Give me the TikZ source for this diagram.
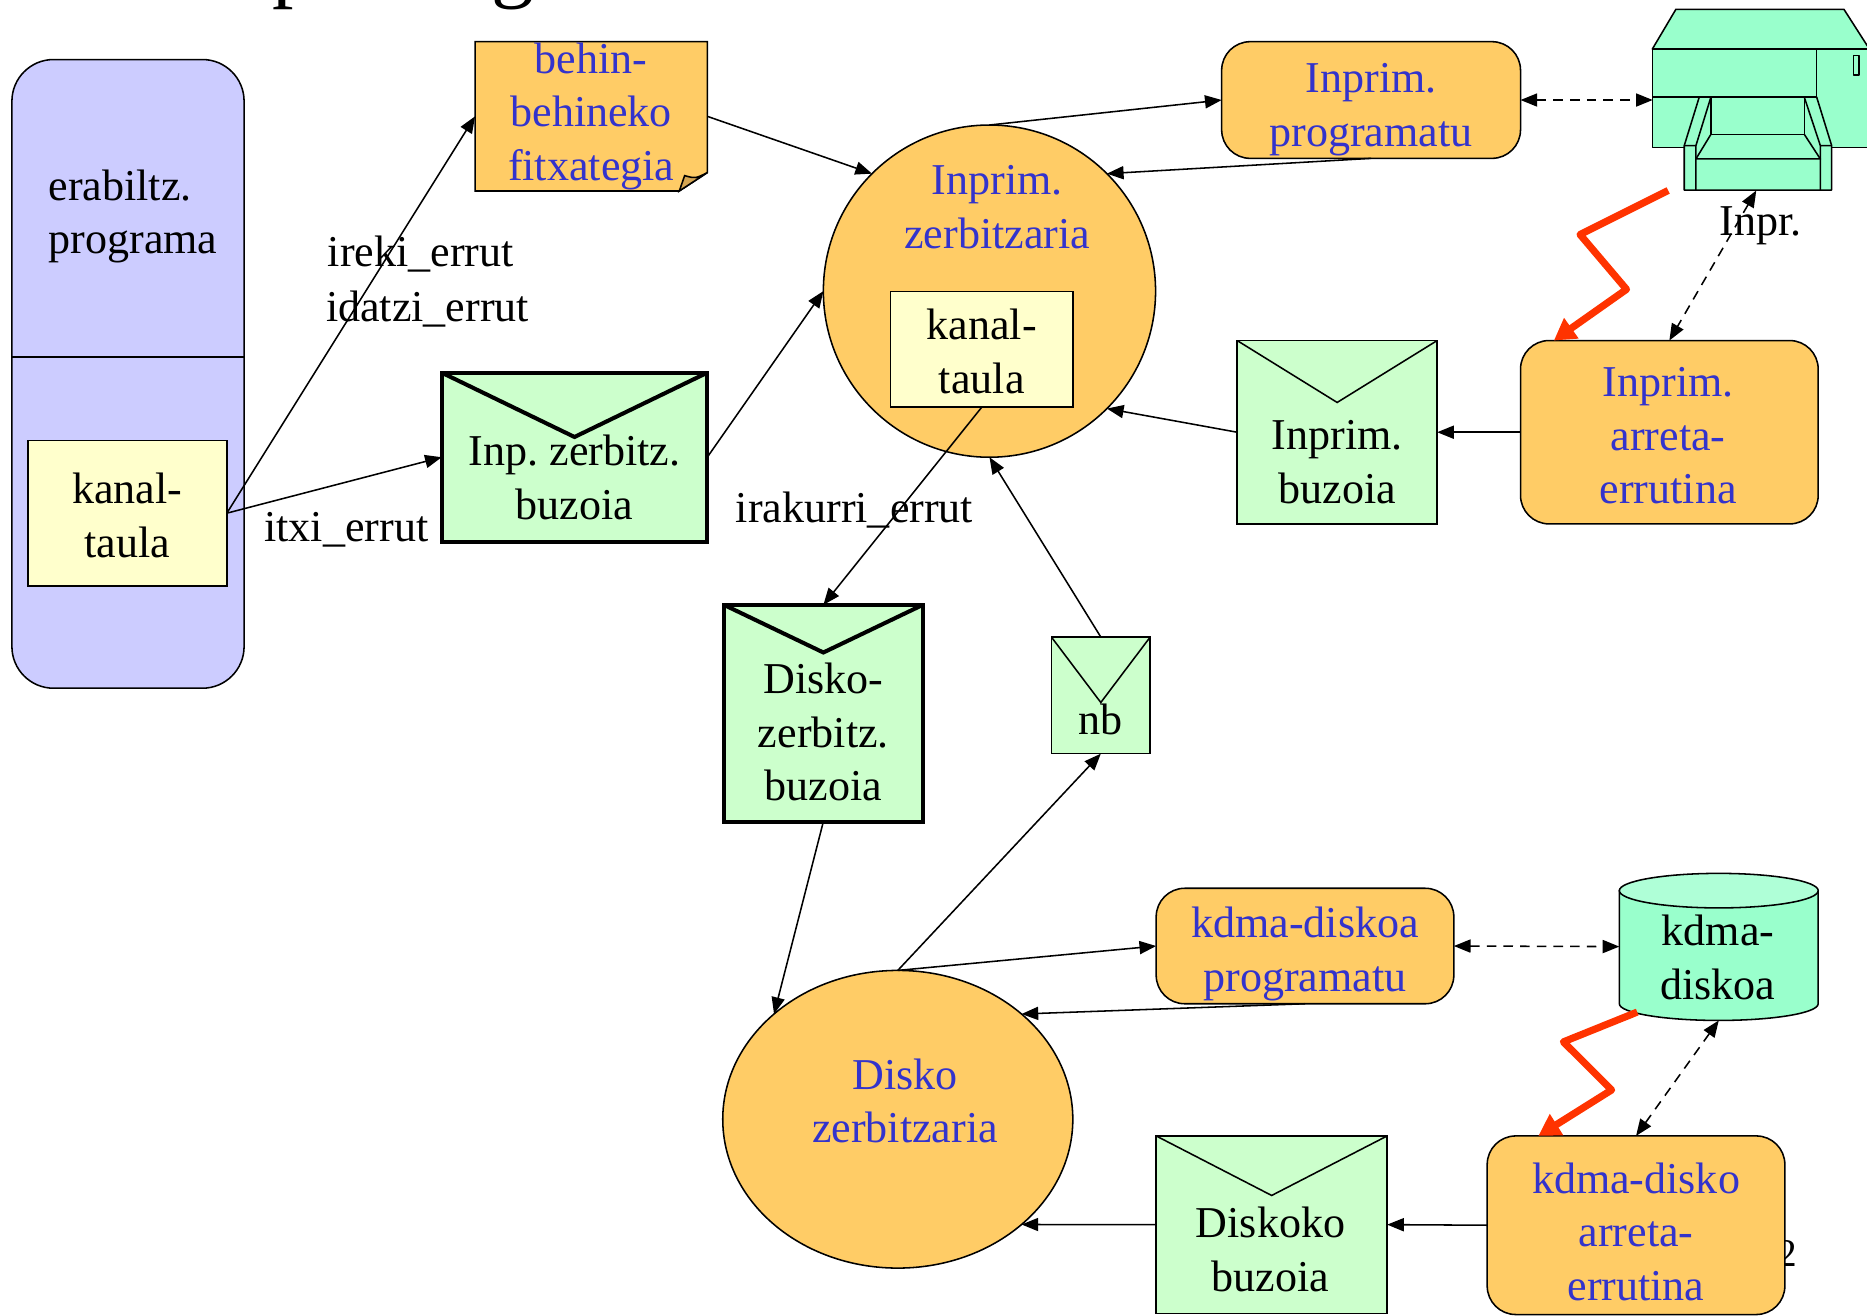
\documentclass[tikz,border=0pt]{standalone}
\usepackage{fontspec}
\setmainfont{Liberation Serif}
\frenchspacing
\usetikzlibrary{
  arrows.meta,
  calc,
  shapes.geometric,
}
\tikzset{
  >={Triangle[length=14pt,width=11pt]},
}
\definecolor{lila}{HTML}{CCCCFF}
\definecolor{laranja}{HTML}{FFCC66}
\definecolor{berdea}{HTML}{CCFFCC}
\definecolor{ura}{HTML}{99FFCC}
\definecolor{uraargi}{HTML}{AFFFD7}
\definecolor{horia}{HTML}{FFFFCC}
\definecolor{urdina}{HTML}{3333CC}
\definecolor{gorria}{HTML}{FF3300}
\definecolor{tolestu}{HTML}{D4A552}

\begin{document}
\begin{tikzpicture}[x=1pt,y=-1pt,line width=1.3pt,
  every node/.style={font=\fontsize{37}{45}\selectfont,inner sep=0pt,outer sep=0pt,align=center},
  box/.style={rectangle,draw,line width=1.3pt},
  prozesu/.style={box,rounded corners=24pt,fill=laranja},
  zerbitzari/.style={ellipse,draw,line width=1.3pt,fill=laranja},
  buzoi/.style args={#1 and #2}{box,fill=berdea,line width=#2,
    path picture={\draw[line width=#2] (path picture bounding box.north west) -- ([yshift=-#1]path picture bounding box.north) -- (path picture bounding box.north east);}},
  lotura/.style={<->,dash pattern=on 8pt off 6pt,line width=1.3pt},
  tximista/.style={gorria,line width=6pt,line join=round,-{Triangle[length=18pt,width=20pt]}}]

        \useasboundingbox (0,0) rectangle (1568,1105);

        \begin{scope}
          \clip (0,0) rectangle (1568,1105);
          \node[anchor=base west,font=\fontsize{72}{80}\selectfont] (izenburua) at (189,-7) {Spooling};
        \end{scope}

        \node[box,fill=lila,rounded corners=35pt,minimum width=195pt,minimum height=528pt] (prog) at (107.5,314) {};
        \draw (prog.west |- 0,300) -- (prog.east |- 0,300);
        \node[anchor=west,align=left] (progt) at (40.8,181.9) {erabiltz.\\programa};
        \node[box,fill=horia,minimum width=167pt,minimum height=122pt] (kanal1) at (107,431) {};
        \node (kanal1t) at (107,433) {kanal-\\taula};

        \draw[fill=laranja] (399,35) -- (594,35) -- (594,145) -- (570.5,160.4) -- (399,160.4) -- cycle;
        \draw[fill=tolestu] (570.5,160.4) -- (575,147.5) .. controls (584,150) .. (594,145) -- cycle;
        \node[minimum width=195pt,minimum height=125pt,text=urdina] (behin) at (496.5,97.7) {behin-\\behineko\\fitxategia};

        \node[buzoi={54pt and 3.4pt},minimum width=223pt,minimum height=142pt] (inpbuz) at (482.5,384) {};
        \node (inpbuzt) at (482.5,401) {Inp. zerbitz.\\buzoia};

        \node[zerbitzari,minimum width=279pt,minimum height=279pt] (inpsrv) at (831,244.5) {};
        \node[text=urdina] (inpsrvt) at (837.5,173.9) {Inprim.\\zerbitzaria};
        \node[box,fill=horia,minimum width=153pt,minimum height=97pt] (kanal2) at (824.5,293.5) {};
        \node (kanal2t) at (824.5,295) {kanal-\\taula};

        \node[prozesu,minimum width=251pt,minimum height=98pt] (inpprog) at (1151.5,84) {};
        \node[text=urdina] (inpprogt) at (1151.5,92) {Inprim.\\programatu};

        \begin{scope}[fill=ura,line join=round]
          \filldraw (1387.7,41.2) -- (1407.5,7.8) -- (1548.6,7.8) -- (1570,41.2) -- cycle;
          \filldraw (1387.7,41.2) rectangle (1580,124);
          \draw (1525.7,41.2) -- (1525.7,124) (1387.7,81.5) -- (1525.7,81.5);
          \draw (1556.8,46.8) rectangle (1561.2,63);
          \filldraw (1427.1,81.5) -- (1414.5,122.3) -- (1414.5,159.6) -- (1538.3,159.6) -- (1538.3,122.3) -- (1525.7,81.5) -- cycle;
          \draw (1436.9,81.5) -- (1424.3,122.3) -- (1424.3,159.6) (1414.5,122.3) -- (1424.3,122.3);
          \draw (1515.3,81.5) -- (1528.8,122.3) -- (1528.8,159.6) (1528.8,122.3) -- (1538.3,122.3);
          \draw (1436.9,81.5) -- (1436.9,112.8) -- (1515.3,112.8) -- (1515.3,81.5);
          \draw (1436.9,112.8) -- (1424.3,133.5) -- (1528.8,133.5) -- (1515.3,112.8);
        \end{scope}
        \node[minimum width=180pt,minimum height=152pt] (inpr) at (1478,84) {};
        \node[anchor=base west] (inprt) at (1444,197.4) {Inpr.};

        \node[prozesu,minimum width=250pt,minimum height=154pt] (inparr) at (1402,363) {};
        \node[text=urdina] (inparrt) at (1401,366) {Inprim.\\arreta-\\errutina};

        \node[buzoi={52pt and 1.3pt},minimum width=168pt,minimum height=154pt] (inpbuz2) at (1123,363) {};
        \node (inpbuz2t) at (1123,388) {Inprim.\\buzoia};

        \node[buzoi={40pt and 3.4pt},minimum width=167pt,minimum height=182pt] (diskbuz) at (691.5,599) {};
        \node (diskbuzt) at (691.5,615) {Disko-\\zerbitz.\\buzoia};

        \node[buzoi={55pt and 1.3pt},minimum width=83pt,minimum height=98pt] (nb) at (924.5,584) {};
        \node (nbt) at (924.5,604) {nb};

        \node[zerbitzari,minimum width=294pt,minimum height=250pt] (disksrv) at (754,940) {};
        \node[text=urdina] (disksrvt) at (760,924.5) {Disko\\zerbitzaria};

        \node[prozesu,minimum width=250pt,minimum height=97pt] (kdmaprog) at (1096,794.5) {};
        \node[text=urdina] (kdmaprogt) at (1096,801) {kdma-diskoa\\programatu};

        \filldraw[fill=ura] (1360,748) -- (1360,843) arc[start angle=180,end angle=0,x radius=83.5,y radius=14] -- (1527,748) -- cycle;
        \filldraw[fill=uraargi] (1443.5,748) ellipse[x radius=83.5,y radius=14.5];
        \node[minimum width=167pt,minimum height=124pt] (kdma) at (1443.5,795) {};
        \node (kdmat) at (1442.8,804) {kdma-\\diskoa};

        \node[anchor=base east,font=\fontsize{33}{40}\selectfont] (orria) at (1509,1064) {12};
        \node[prozesu,minimum width=250pt,minimum height=150pt] (kdmaarr) at (1374,1029) {};
        \node[text=urdina] (kdmaarrt) at (1374,1034.5) {kdma-disko\\arreta-\\errutina};

        \node[buzoi={50pt and 1.3pt},minimum width=194pt,minimum height=149pt] (diskbuz2) at (1068,1028.5) {};
        \node (diskbuz2t) at (1067,1049.5) {Diskoko\\buzoia};

        \node[anchor=base west] (ireki) at (275.4,224) {ireki\_errut};
        \node[anchor=base west] (idatzi) at (273.8,270.2) {idatzi\_errut};
        \node[anchor=base west] (itxi) at (222,455) {itxi\_errut};
        \node[anchor=base west] (irakurri) at (618,439) {irakurri\_errut};

        \draw[->] (kanal1.east) -- (behin.west);
        \draw[->] (kanal1.east) -- (inpbuz.west);
        \draw[->] (inpbuz.east) -- (inpsrv.west);
        \draw[->] (behin.east) -- (inpsrv.north west);
        \draw[->] (inpsrv.north) -- (inpprog.west);
        \draw[->] (inpprog.south) -- (inpsrv.north east);
        \draw[lotura] (inpprog.east) -- (inpr.west);
        \draw[tximista] ([xshift=13pt]inpr.south west) -- (1327,197) -- (1366,243) -- ([xshift=28pt]inparr.north west);
        \draw[lotura] ([xshift=-3pt]inpr.south) -- (inparr.north);
        \draw[->] (inparr.west) -- (inpbuz2.east);
        \draw[->] (inpbuz2.west) -- (inpsrv.south east);
        \draw[->] (kanal2.south) -- (diskbuz.north);
        \draw[->] (nb.north) -- (inpsrv.south);
        \draw[->] (diskbuz.south) -- (disksrv.north west);
        \draw[->] (disksrv.north) -- (nb.south);
        \draw[->] (disksrv.north) -- (kdmaprog.west);
        \draw[->] (kdmaprog.south) -- (disksrv.north east);
        \draw[lotura] (kdmaprog.east) -- (kdma.west);
        \draw[tximista] ([xshift=15pt,yshift=7pt]kdma.south west) -- (1313,875) -- (1353.5,915.4) -- ([xshift=43pt]kdmaarr.north west);
        \draw[lotura] (kdma.south) -- (kdmaarr.north);
        \draw[->] (kdmaarr.west) -- (diskbuz2.east);
        \draw[->] (diskbuz2.west) -- (disksrv.south east);

      \end{tikzpicture}
\end{document}
